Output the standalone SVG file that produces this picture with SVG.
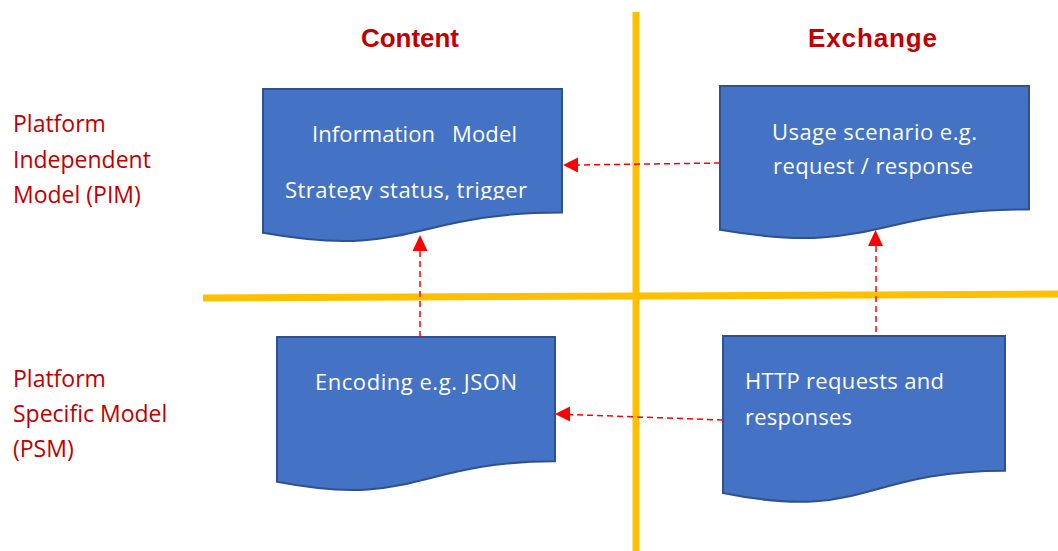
<svg xmlns="http://www.w3.org/2000/svg" width="1058" height="551" viewBox="0 0 1058 551">
<style>
.doc{fill:#4472C4;stroke:#2F528F;stroke-width:2}
.bt{font-family:"Open Sans","Noto Sans",sans-serif;font-size:22px;fill:#FFFFFF}
.side{font-family:"Open Sans","Noto Sans",sans-serif;font-size:23px;fill:#C00000}
.title{font-family:"Liberation Sans",Arial,sans-serif;font-weight:bold;font-size:26px;fill:#C00000}
.axis{stroke:#FFC000;stroke-width:7;fill:none}
.conn{stroke:#FF0000;stroke-width:1.5;stroke-dasharray:6 4;fill:none}
.head{fill:#FF0000}
</style>
<defs>
<clipPath id="clip1"><rect x="263" y="89" width="299" height="111"/></clipPath>
</defs>
<rect width="1058" height="551" fill="#FFFFFF"/>
<g id="axes">
<line class="axis" x1="636" y1="12" x2="636" y2="551"/>
<line class="axis" x1="203" y1="298" x2="1058" y2="294"/>
</g>
<g id="titles">
<text class="title" x="361" y="47" textLength="98" lengthAdjust="spacingAndGlyphs">Content</text>
<text class="title" x="808" y="47" textLength="129">Exchange</text>
</g>
<g id="label-pim">
<text class="side" x="13" y="132">Platform</text>
<text class="side" x="13" y="168">Independent</text>
<text class="side" x="13" y="203">Model (PIM)</text>
</g>
<g id="label-psm">
<text class="side" x="13" y="387">Platform</text>
<text class="side" x="13" y="422">Specific Model</text>
<text class="side" x="13" y="457">(PSM)</text>
</g>
<g id="node-information-model">
<path class="doc" d="M263,89 H562 V212.5 C412.5,212.5 412.5,259.5 263,232.8 Z"/>
<text class="bt" x="312" y="142" textLength="123">Information</text>
<text class="bt" x="452" y="142" textLength="65">Model</text>
<text class="bt" x="285" y="198" textLength="242" clip-path="url(#clip1)">Strategy status, trigger</text>
</g>
<g id="node-usage-scenario">
<path class="doc" d="M720,86 H1029 V209.5 C874.5,209.5 874.5,256.5 720,229.8 Z"/>
<text class="bt" x="772" y="140" textLength="205">Usage scenario e.g.</text>
<text class="bt" x="773" y="174" textLength="200">request / response</text>
</g>
<g id="node-encoding">
<path class="doc" d="M277,337 H555 V461.3 C416,461.3 416,508.6 277,481.8 Z"/>
<text class="bt" x="315" y="390" textLength="202">Encoding e.g. JSON</text>
</g>
<g id="node-http">
<path class="doc" d="M723,336 H1005 V470.7 C864,470.7 864,522 723,492.9 Z"/>
<text class="bt" x="745" y="389" textLength="199">HTTP requests and</text>
<text class="bt" x="745" y="425" textLength="107">responses</text>
</g>
<g id="connectors">
<line class="conn" x1="720" y1="163" x2="577" y2="165"/>
<polygon class="head" points="563,165 578,157.5 578,172.5"/>
<line class="conn" x1="723" y1="420" x2="569" y2="414.5"/>
<polygon class="head" points="555,414 570,406.5 570,421.5"/>
<line class="conn" x1="420" y1="337" x2="420" y2="250"/>
<polygon class="head" points="420,235 412.5,251 427.5,251"/>
<line class="conn" x1="876" y1="332" x2="876" y2="245"/>
<polygon class="head" points="875.5,230 868,246 883,246"/>
</g>
</svg>
